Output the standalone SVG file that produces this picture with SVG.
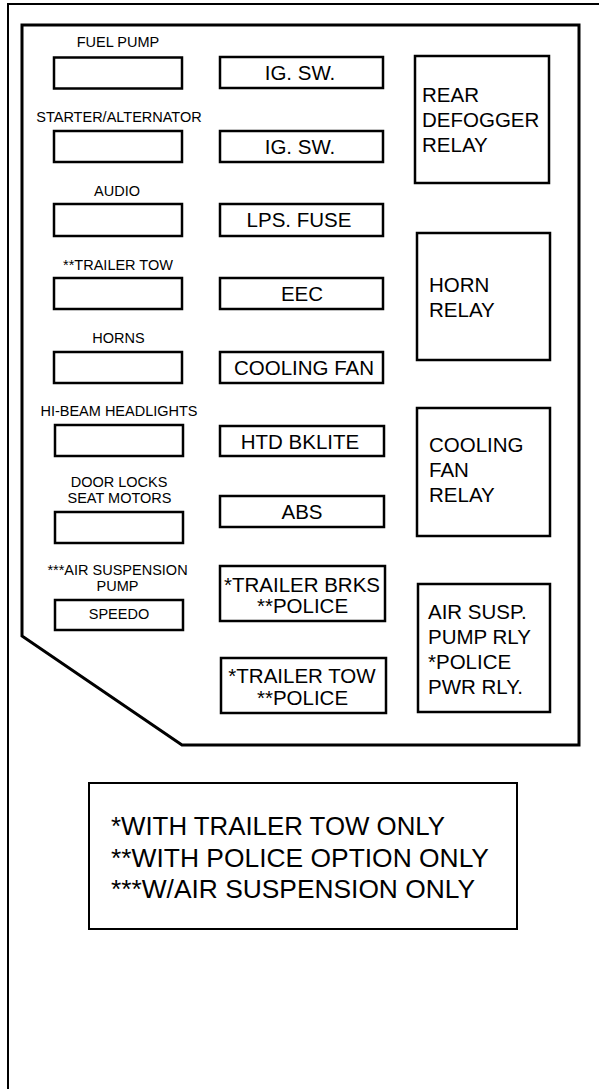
<svg xmlns="http://www.w3.org/2000/svg" width="599" height="1089" viewBox="0 0 599 1089">
<style>
.bx{fill:#fff;stroke:#000;stroke-width:2.5}
.lb{font-family:"Liberation Sans",Arial,sans-serif;font-size:14.5px;fill:#000;text-anchor:middle}
.mt{font-family:"Liberation Sans",Arial,sans-serif;font-size:20.5px;fill:#000;text-anchor:middle}
.rt{font-family:"Liberation Sans",Arial,sans-serif;font-size:20.5px;fill:#000}
.lg{font-family:"Liberation Sans",Arial,sans-serif;font-size:25px;fill:#000}
</style>
<rect width="599" height="1089" fill="#fff"/>
<path d="M8,1089 V4 H599" fill="none" stroke="#000" stroke-width="2"/>
<g id="panel"><path d="M22,25 H579 V745 H182 L22,636 Z" fill="none" stroke="#000" stroke-width="3"/></g>

<g id="fuel-pump"><text class="lb" x="118" y="47">FUEL PUMP</text><rect class="bx" x="54" y="57.5" width="128" height="31"/></g>
<g id="starter-alternator"><text class="lb" x="119" y="122">STARTER/ALTERNATOR</text><rect class="bx" x="54" y="131" width="128" height="31"/></g>
<g id="audio"><text class="lb" x="117" y="196">AUDIO</text><rect class="bx" x="54" y="204" width="128" height="32"/></g>
<g id="trailer-tow-fuse"><text class="lb" x="118" y="270">**TRAILER TOW</text><rect class="bx" x="54" y="278" width="128" height="31"/></g>
<g id="horns"><text class="lb" x="118.5" y="343">HORNS</text><rect class="bx" x="54" y="352" width="128" height="31"/></g>
<g id="hi-beam"><text class="lb" x="119" y="416">HI-BEAM HEADLIGHTS</text><rect class="bx" x="55" y="425" width="128" height="31"/></g>
<g id="door-locks"><text class="lb" x="119" y="487">DOOR LOCKS</text><text class="lb" x="119.5" y="503">SEAT MOTORS</text><rect class="bx" x="55" y="512" width="128" height="31"/></g>
<g id="speedo"><text class="lb" x="117.5" y="575">***AIR SUSPENSION</text><text class="lb" x="117.5" y="591">PUMP</text><rect class="bx" x="55" y="600" width="128" height="30"/><text class="lb" x="119" y="619">SPEEDO</text></g>

<g id="ig-sw-1"><rect class="bx" x="220" y="57" width="163" height="31"/><text class="mt" x="300" y="80">IG. SW.</text></g>
<g id="ig-sw-2"><rect class="bx" x="220" y="131" width="163" height="31"/><text class="mt" x="300" y="154">IG. SW.</text></g>
<g id="lps-fuse"><rect class="bx" x="220" y="204" width="163" height="32"/><text class="mt" x="299" y="227">LPS. FUSE</text></g>
<g id="eec"><rect class="bx" x="220" y="278" width="163" height="31"/><text class="mt" x="302" y="301">EEC</text></g>
<g id="cooling-fan"><rect class="bx" x="220" y="352" width="163" height="31"/><text class="mt" x="304" y="375">COOLING FAN</text></g>
<g id="htd-bklite"><rect class="bx" x="220" y="426" width="164" height="30"/><text class="mt" x="300" y="449">HTD BKLITE</text></g>
<g id="abs"><rect class="bx" x="220" y="496" width="164" height="31"/><text class="mt" x="302" y="519">ABS</text></g>
<g id="trailer-brks"><rect class="bx" x="220" y="566" width="165" height="55"/><text class="mt" x="302" y="592">*TRAILER BRKS</text><text class="mt" x="302.5" y="613">**POLICE</text></g>
<g id="trailer-tow"><rect class="bx" x="221" y="658" width="165" height="55"/><text class="mt" x="302" y="683">*TRAILER TOW</text><text class="mt" x="302.5" y="705">**POLICE</text></g>

<g id="rear-defogger-relay"><rect class="bx" x="415" y="56" width="134" height="127"/><text class="rt" x="422" y="102">REAR</text><text class="rt" x="422" y="127">DEFOGGER</text><text class="rt" x="422" y="152">RELAY</text></g>
<g id="horn-relay"><rect class="bx" x="417" y="233" width="133" height="127"/><text class="rt" x="429" y="292">HORN</text><text class="rt" x="429" y="317">RELAY</text></g>
<g id="cooling-fan-relay"><rect class="bx" x="417" y="408" width="133" height="128"/><text class="rt" x="429" y="452">COOLING</text><text class="rt" x="429" y="477">FAN</text><text class="rt" x="429" y="502">RELAY</text></g>
<g id="air-susp-relay"><rect class="bx" x="418" y="584" width="132" height="128"/><text class="rt" x="428" y="619">AIR SUSP.</text><text class="rt" x="428" y="644">PUMP RLY</text><text class="rt" x="428" y="669">*POLICE</text><text class="rt" x="428" y="694">PWR RLY.</text></g>

<g id="legend"><rect x="89" y="783" width="428" height="146" fill="#fff" stroke="#000" stroke-width="2"/>
<text class="lg" x="111" y="835" textLength="334" lengthAdjust="spacingAndGlyphs">*WITH TRAILER TOW ONLY</text>
<text class="lg" x="111" y="867" textLength="378" lengthAdjust="spacingAndGlyphs">**WITH POLICE OPTION ONLY</text>
<text class="lg" x="111" y="898" textLength="364" lengthAdjust="spacingAndGlyphs">***W/AIR SUSPENSION ONLY</text></g>
<g id="connectors"/>
</svg>
